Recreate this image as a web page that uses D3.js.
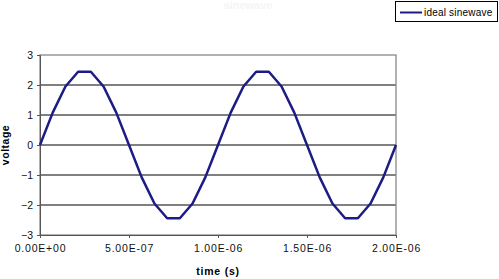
<!DOCTYPE html>
<html>
<head>
<meta charset="utf-8">
<script src="https://cdn.jsdelivr.net/npm/d3@7"></script>
<style>
  body { margin: 0; background: #fff; }
  svg { display: block; font-family: 'Liberation Sans', Arial, sans-serif; }
</style>
</head>
<body>
<svg class="chart" width="499" height="279"></svg>
<script>
// sample times (s), 14 samples per 1e-6 period
const times = [
  0, 7.14e-8, 1.429e-7, 2.143e-7, 2.857e-7, 3.571e-7, 4.286e-7,
  5e-7, 5.714e-7, 6.429e-7, 7.143e-7, 7.857e-7, 8.571e-7, 9.286e-7,
  1e-6, 1.0714e-6, 1.1429e-6, 1.2143e-6, 1.2857e-6, 1.3571e-6, 1.4286e-6,
  1.5e-6, 1.5714e-6, 1.6429e-6, 1.7143e-6, 1.7857e-6, 1.8571e-6, 1.9286e-6,
  2e-6
]
// voltage
const voltage = [
  0, 1.08, 1.95, 2.44, 2.44, 1.95, 1.08,
  0, -1.08, -1.95, -2.44, -2.44, -1.95, -1.08,
  0, 1.08, 1.95, 2.44, 2.44, 1.95, 1.08,
  0, -1.08, -1.95, -2.44, -2.44, -1.95, -1.08,
  0
]
const xTicks = [0, 5e-7, 1e-6, 1.5e-6, 2e-6]
const xTickLabels = ['0.00E+00', '5.00E-07', '1.00E-06', '1.50E-06', '2.00E-06']
const yTicks = [-3, -2, -1, 0, 1, 2, 3]
const seriesName = 'ideal sinewave'
const chartTitle = 'sinewave'

const plotLeft = 40, plotRight = 396, plotTop = 55, plotBottom = 235
const lineColor = '#1c1c84'
const font = "'Liberation Sans', Arial, sans-serif"

const xSc = d3.scaleLinear().domain([0, 2e-6]).range([plotLeft, plotRight])
const ySc = d3.scaleLinear().domain([-3, 3]).range([plotBottom, plotTop])

const chart = d3.select('.chart')

// faint title, nearly invisible in the original
chart.append('text')
  .attr('x', 248).attr('y', 9)
  .attr('text-anchor', 'middle')
  .attr('font-size', 11).attr('font-weight', 'bold')
  .attr('fill', '#f5f5f5')
  .text(chartTitle)

// horizontal gridlines
chart.append('g')
  .selectAll('line')
  .data(yTicks.filter(d => d > -3 && d < 3))
  .enter()
  .append('line')
  .attr('x1', plotLeft).attr('x2', plotRight)
  .attr('y1', d => ySc(d)).attr('y2', d => ySc(d))
  .attr('stroke', '#000').attr('stroke-width', 1)

// plot frame (top/right gray)
chart.append('rect')
  .attr('x', plotLeft).attr('y', plotTop)
  .attr('width', plotRight - plotLeft).attr('height', plotBottom - plotTop)
  .attr('fill', 'none').attr('stroke', '#888').attr('stroke-width', 1.3)

// y axis
const yAxis = d3.axisLeft(ySc).tickValues(yTicks).tickSize(3).tickPadding(4)
  .tickFormat(d3.format('d'))
chart.append('g')
  .attr('transform', `translate(${plotLeft},0)`)
  .call(yAxis)
  .call(g => g.selectAll('path, line').attr('stroke', '#555'))
  .call(g => g.selectAll('text').attr('font-size', 10.5).attr('fill', '#111')
    .attr('font-family', font))

// x axis
const xAxis = d3.axisBottom(xSc).tickValues(xTicks).tickSize(3).tickPadding(7)
  .tickFormat((d, i) => xTickLabels[i])
chart.append('g')
  .attr('transform', `translate(0,${plotBottom})`)
  .call(xAxis)
  .call(g => g.selectAll('path, line').attr('stroke', '#555'))
  .call(g => g.selectAll('text').attr('font-size', 10.5).attr('fill', '#111')
    .attr('letter-spacing', 0.8).attr('font-family', font))

// axis titles
chart.append('text')
  .attr('x', (plotLeft + plotRight) / 2).attr('y', 275)
  .attr('text-anchor', 'middle')
  .attr('font-size', 10.5).attr('font-weight', 'bold')
  .attr('letter-spacing', 0.8)
  .text('time (s)')

chart.append('text')
  .attr('transform', `translate(9,${(plotTop + plotBottom) / 2}) rotate(-90)`)
  .attr('text-anchor', 'middle')
  .attr('font-size', 10.5).attr('font-weight', 'bold')
  .attr('letter-spacing', 0.5)
  .text('voltage')

// the series
const pts = times.map((t, i) => [t, voltage[i]])
chart.append('path')
  .datum(pts)
  .attr('d', d3.line().x(d => xSc(d[0])).y(d => ySc(d[1])))
  .attr('fill', 'none')
  .attr('stroke', lineColor)
  .attr('stroke-width', 2.5)
  .attr('stroke-linejoin', 'round')

// legend
const lg = chart.append('g').attr('transform', 'translate(395,1)')
lg.append('rect')
  .attr('x', 0.5).attr('y', 0.5)
  .attr('width', 102).attr('height', 20)
  .attr('fill', '#fff').attr('stroke', '#000')
lg.append('line')
  .attr('x1', 5).attr('x2', 27)
  .attr('y1', 11.5).attr('y2', 11.5)
  .attr('stroke', lineColor).attr('stroke-width', 2)
lg.append('text')
  .attr('x', 29).attr('y', 15)
  .attr('font-size', 10)
  .attr('letter-spacing', 0.2)
  .text(seriesName)
</script>
</body>
</html>
